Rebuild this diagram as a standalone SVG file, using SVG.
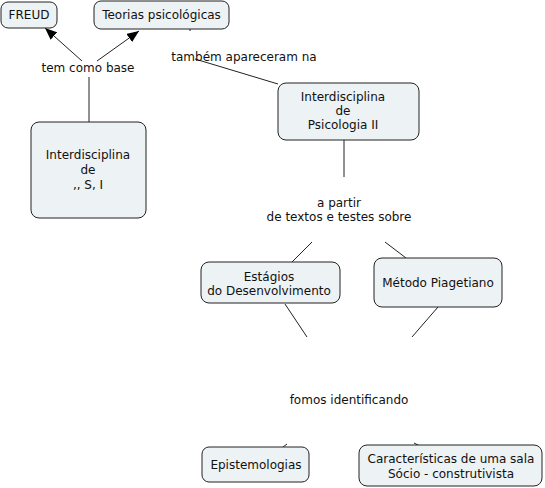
<svg xmlns="http://www.w3.org/2000/svg" width="545" height="488" viewBox="0 0 545 488">
<style>
.box{fill:#edf2f4;stroke:#222;stroke-width:1}
text{font-family:"DejaVu Sans",Verdana,sans-serif;font-size:12px;fill:#111;text-anchor:middle}
.ln{stroke:#222;stroke-width:1;fill:none}
</style>
<defs>
<marker id="ah" viewBox="0 0 12 10" refX="12" refY="5" markerWidth="12" markerHeight="10" markerUnits="userSpaceOnUse" orient="auto">
<path d="M0,0 L12,5 L0,10 Z" fill="#000"/>
</marker>
</defs>
<rect width="545" height="488" fill="#fff"/>
<g id="connectors">
<line class="ln" x1="82" y1="61" x2="45" y2="28" marker-end="url(#ah)"/>
<line class="ln" x1="97" y1="61" x2="139" y2="31" marker-end="url(#ah)"/>
<line class="ln" x1="89" y1="77" x2="89" y2="122"/>
<line class="ln" x1="190" y1="29" x2="190" y2="31"/>
<line class="ln" x1="195" y1="59" x2="278" y2="84"/>
<line class="ln" x1="344" y1="140" x2="344" y2="177"/>
<line class="ln" x1="312" y1="242" x2="292" y2="262"/>
<line class="ln" x1="385" y1="242" x2="406" y2="258"/>
<line class="ln" x1="285" y1="304" x2="307" y2="337"/>
<line class="ln" x1="438" y1="307" x2="412" y2="337"/>
<line class="ln" x1="283" y1="447" x2="287" y2="444"/>
<line class="ln" x1="414" y1="443" x2="420" y2="446"/>
</g>
<g id="freud"><rect class="box" x="1" y="2" width="56" height="26" rx="7"/><text x="29" y="19">FREUD</text></g>
<g id="teorias"><rect class="box" x="94" y="1" width="135" height="28" rx="7"/><text x="161.5" y="19">Teorias psicológicas</text></g>
<g id="tem-como-base"><text x="88" y="72">tem como base</text></g>
<g id="interdisciplina-si"><rect class="box" x="31" y="122" width="115" height="96" rx="8"/><text x="88" y="159">Interdisciplina</text><text x="88" y="174">de</text><text x="88" y="189">,, S, I</text></g>
<g id="tambem"><text x="244" y="61">também apareceram na</text></g>
<g id="psicologia"><rect class="box" x="278" y="83" width="141" height="57" rx="8"/><text x="343" y="101">Interdisciplina</text><text x="343" y="115">de</text><text x="343" y="129">Psicologia II</text></g>
<g id="a-partir"><text x="339" y="207">a partir</text><text x="339" y="221">de textos e testes sobre</text></g>
<g id="estagios"><rect class="box" x="201" y="262" width="139" height="41" rx="8"/><text x="269" y="281">Estágios</text><text x="269" y="295">do Desenvolvimento</text></g>
<g id="metodo"><rect class="box" x="374" y="258" width="128" height="49" rx="8"/><text x="438" y="287">Método Piagetiano</text></g>
<g id="fomos"><text x="349" y="404">fomos identificando</text></g>
<g id="epistemologias"><rect class="box" x="202" y="447" width="107" height="35" rx="7"/><text x="256" y="469">Epistemologias</text></g>
<g id="caracteristicas"><rect class="box" x="359" y="445" width="183" height="41" rx="8"/><text x="451" y="463">Características de uma sala</text><text x="451" y="478">Sócio - construtivista</text></g>
</svg>
